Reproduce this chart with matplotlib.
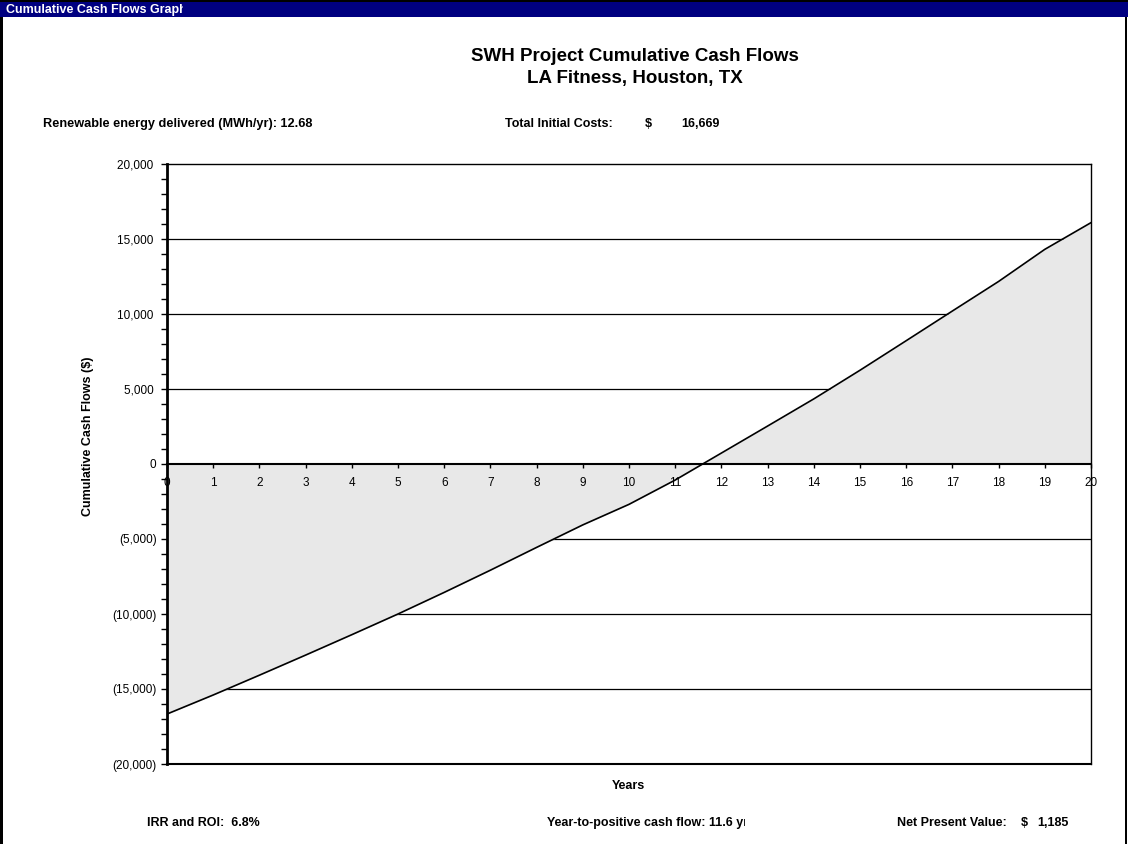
import matplotlib
matplotlib.use("Agg")
import matplotlib.pyplot as plt
from matplotlib.patches import Rectangle
from matplotlib.ticker import MultipleLocator, FuncFormatter
from matplotlib.transforms import Bbox

plt.rcParams['font.family'] = ['Liberation Sans', 'DejaVu Sans']

# Project cash flow data
years = list(range(0, 21))
cumulative_cash = [-16669, -15400, -14080, -12740, -11380, -10000, -8560, -7080,
                   -5560, -4060, -2690, -1070, 730, 2530, 4340, 6250, 8220,
                   10200, 12170, 14310, 16090]
x_tick_labels = [str(y) for y in years]
y_ticks = [-20000, -15000, -10000, -5000, 0, 5000, 10000, 15000, 20000]

window_title = "Cumulative Cash Flows Graph"
chart_title = "SWH Project Cumulative Cash Flows\nLA Fitness, Houston, TX"
energy_text = "Renewable energy delivered (MWh/yr): 12.68"
initial_cost_label = "Total Initial Costs:"
initial_cost_value = "16,669"
irr_text = "IRR and ROI:  6.8%"
payback_text = "Year-to-positive cash flow: 11.6 yrs"
npv_label = "Net Present Value:"
npv_value = "1,185"

W, H = 1128, 844
fig = plt.figure(figsize=(W / 100, H / 100), dpi=100)
fig.patch.set_facecolor('white')


def fx(px):
    return px / W


def fy(py):
    return 1 - py / H


# Window-style title bar and frame
fig.patches.append(Rectangle((0, fy(17)), 1, 17 / H, transform=fig.transFigure,
                             facecolor='#000080', edgecolor='none', zorder=0))
fig.patches.append(Rectangle((0, fy(2)), 1, 2 / H, transform=fig.transFigure,
                             facecolor='#000000', edgecolor='none', zorder=1))
fig.patches.append(Rectangle((0, 0), 3 / W, fy(17), transform=fig.transFigure,
                             facecolor='#000000', edgecolor='none', zorder=1))
fig.patches.append(Rectangle((fx(1125), 0), 2 / W, fy(17), transform=fig.transFigure,
                             facecolor='#000000', edgecolor='none', zorder=1))

bar_txt = fig.text(fx(6), fy(9.5), window_title, color='white', fontsize=9,
                   fontweight='bold', ha='left', va='center')
bar_txt.set_clip_box(Bbox.from_extents(0, H - 17, 183, H))
bar_txt.set_clip_on(True)

ax = fig.add_axes([fx(167), fy(764), fx(1091) - fx(167), fy(164) - fy(764)])

# Gridlines sit underneath the filled area
for v in [-15000, -10000, -5000, 5000, 10000, 15000]:
    ax.axhline(v, color='black', lw=0.9, zorder=1)

ax.fill_between(years, cumulative_cash, 0, color='#e8e8e8', lw=0, zorder=1.5)
ax.plot(years, cumulative_cash, color='black', lw=1.2, zorder=4)

ax.set_xlim(0, 20)
ax.set_ylim(-20000, 20000)

# Zero axis carries the year ticks
ax.spines['bottom'].set_position(('data', 0))
ax.spines['bottom'].set_linewidth(1.5)
ax.spines['left'].set_linewidth(2)
ax.spines['top'].set_linewidth(1)
ax.spines['right'].set_linewidth(1)
for sp in ax.spines.values():
    sp.set_zorder(5)
ax.axhline(-20000, color='black', lw=1.5, clip_on=False, zorder=5)
ax.xaxis.set_zorder(6)
ax.yaxis.set_zorder(6)

ax.set_xticks(years)
ax.set_xticklabels(x_tick_labels)
ax.tick_params(axis='x', direction='out', length=3, width=1, pad=6,
               labelsize=8.5)

ax.set_yticks(y_ticks)
ax.yaxis.set_minor_locator(MultipleLocator(1000))


def money(v, pos=None):
    if v < 0:
        return f"({abs(v):,.0f})"
    if v == 0:
        return "0"
    return f"{v:,.0f} "


ax.yaxis.set_major_formatter(FuncFormatter(money))
ax.tick_params(axis='y', which='major', direction='out', length=4, width=1,
               pad=3.5, labelsize=8.5)
ax.tick_params(axis='y', which='minor', direction='out', length=4, width=1)

# Header and footer annotations
fig.text(fx(635), fy(67.5), chart_title, ha='center', va='center',
         fontsize=13.5, fontweight='bold', linespacing=1.45)
fig.text(fx(43), fy(124), energy_text, ha='left', va='center', fontsize=9.2,
         fontweight='bold')
fig.text(fx(505), fy(124), initial_cost_label, ha='left', va='center',
         fontsize=9, fontweight='bold')
fig.text(fx(645), fy(124), "$", ha='left', va='center', fontsize=9,
         fontweight='bold')
fig.text(fx(720), fy(124), initial_cost_value, ha='right', va='center',
         fontsize=9, fontweight='bold')

fig.text(fx(88), fy(436), "Cumulative Cash Flows ($)", rotation=90,
         ha='center', va='center', fontsize=9, fontweight='bold')
fig.text(fx(628), fy(786), "Years", ha='center', va='center', fontsize=9,
         fontweight='bold')

fig.text(fx(147), fy(823), irr_text, ha='left', va='center', fontsize=9,
         fontweight='bold')
pay_txt = fig.text(fx(547), fy(823), payback_text, ha='left', va='center',
                   fontsize=9, fontweight='bold')
pay_txt.set_clip_box(Bbox.from_extents(0, 0, 745, H))
pay_txt.set_clip_on(True)
fig.text(fx(897), fy(823), npv_label, ha='left', va='center', fontsize=9,
         fontweight='bold')
fig.text(fx(1021), fy(823), "$", ha='left', va='center', fontsize=9,
         fontweight='bold')
fig.text(fx(1069), fy(823), npv_value, ha='right', va='center', fontsize=9,
         fontweight='bold')

fig.savefig("out.png", dpi=100)
